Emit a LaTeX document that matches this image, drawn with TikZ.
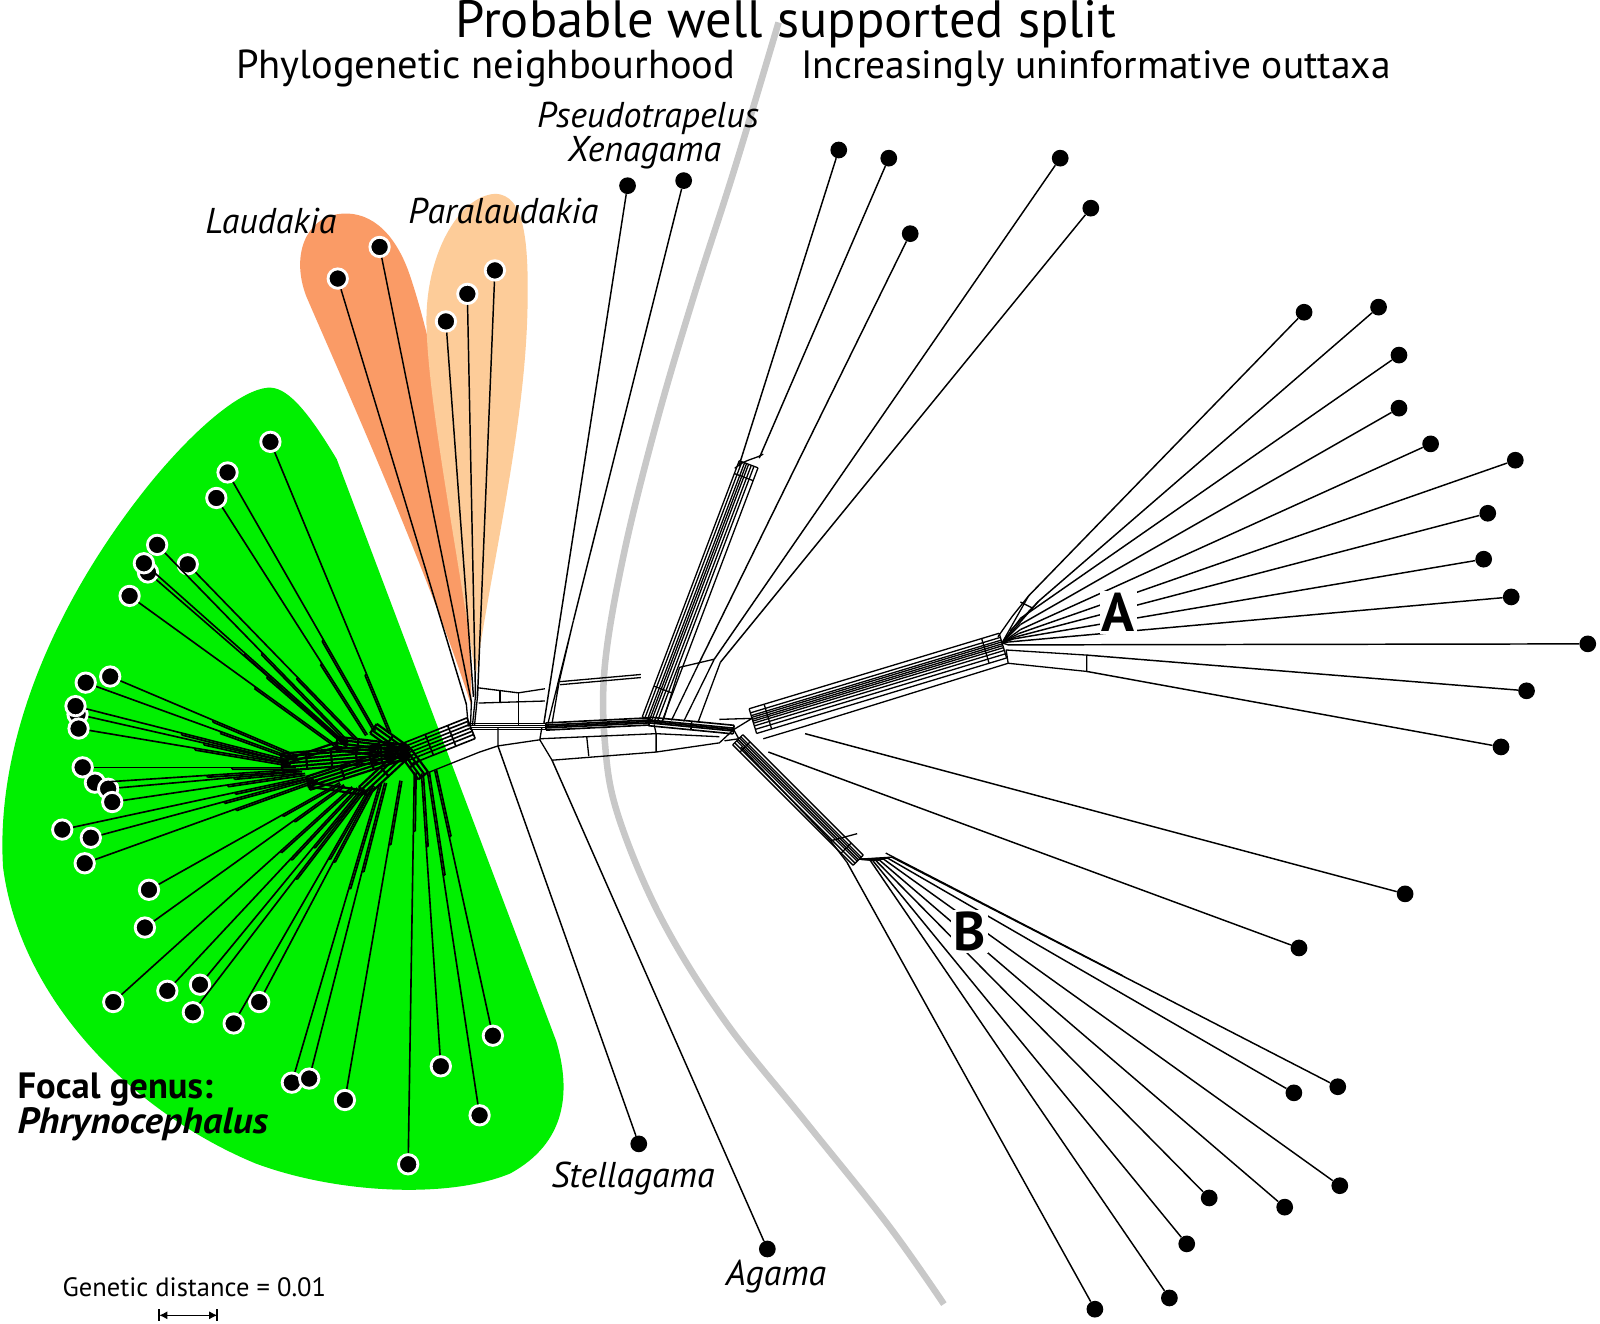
\documentclass[tikz,border=0pt]{standalone}
\usepackage{fontspec}
\setmainfont{PT Sans}
\usetikzlibrary{calc,arrows.meta}
\definecolor{focalgreen}{RGB}{0,240,0}
\definecolor{laudorange}{RGB}{250,155,102}
\definecolor{paraorange}{RGB}{253,204,153}
\definecolor{splitgray}{RGB}{200,200,200}
\newcommand\netband[5]{%
  \foreach \bandoff in {#3}{\draw[netline] ($(#1)!\bandoff!90:(#2)$) -- ($(#2)!\bandoff!-90:(#1)$);}%
  \draw[netline] ($(#1)!#4!90:(#2)$) -- ($(#1)!#5!90:(#2)$);%
  \draw[netline] ($(#2)!#4!-90:(#1)$) -- ($(#2)!#5!-90:(#1)$);%
}
\newcommand\netrung[5]{%
  \coordinate (rungtmp) at ($(#1)!#3!(#2)$);%
  \draw[netline] ($(rungtmp)!#4!90:(#2)$) -- ($(rungtmp)!#5!90:(#2)$);%
}
\newcommand\splitedge[4]{%
  \coordinate (splittmp) at ($(#1)!#3!(#2)$);%
  \draw[netline] ($(#1)!#4!90:(#2)$) -- ($(splittmp)!#4!90:(#2)$);%
  \draw[netline] (splittmp) -- ($(splittmp)!#4!90:(#2)$);%
}
\begin{document}
\begin{tikzpicture}[x=0.25mm,y=-0.25mm,
  netline/.style={line width=0.32mm,black,line join=round},
  leafline/.style={line width=0.36mm,black},
  outdot/.style={circle,fill=black,inner sep=0pt,minimum size=4.1mm},
  ringdot/.style={circle,fill=black,draw=white,line width=0.7mm,inner sep=0pt,minimum size=4.75mm},
  titletext/.style={font=\fontsize{36.6}{40}\selectfont,inner sep=0pt},
  headtext/.style={font=\fontsize{27.5}{32}\selectfont,inner sep=0pt},
  taxontext/.style={font=\fontsize{25}{30}\selectfont\itshape,inner sep=0pt},
  focaltext/.style={font=\fontsize{25.5}{30}\selectfont\bfseries,inner sep=0pt},
  cladetext/.style={font=\fontsize{38}{42}\selectfont\bfseries,fill=white,inner sep=1.5pt},
  scaletext/.style={font=\fontsize{18.5}{22}\selectfont,inner sep=0pt}
]
\useasboundingbox (0,0) rectangle (1568,1297);
\fill[white] (0,0) rectangle (1568,1297);

% ---------- coloured groups ----------
\fill[focalgreen] (262,380) .. controls (280,378) and (300,400) .. (330,450) -- (545,1020)
  .. controls (560,1070) and (555,1120) .. (500,1150)
  .. controls (440,1175) and (330,1170) .. (250,1140)
  .. controls (130,1090) and (20,980) .. (3,850)
  .. controls (-5,720) and (60,580) .. (150,470)
  .. controls (200,410) and (240,382) .. (262,380) -- cycle;
\fill[laudorange] (462,692) .. controls (420,560) and (330,360) .. (300,290)
  .. controls (285,250) and (300,215) .. (330,210)
  .. controls (360,205) and (385,225) .. (400,265)
  .. controls (430,350) and (460,520) .. (462,692) -- cycle;
\fill[paraorange] (466,665) .. controls (452,560) and (420,400) .. (418,320)
  .. controls (416,250) and (450,192) .. (485,190)
  .. controls (515,190) and (518,240) .. (517,300)
  .. controls (515,420) and (480,560) .. (466,665) -- cycle;

% ---------- probable split ----------
\draw[splitgray,line width=1.6mm] plot[smooth,tension=0.6] coordinates
  {(763,22) (720,165) (680,290) (644,412) (612,540) (593,650) (593,730) (606,800)
   (648,900) (710,1000) (790,1100) (870,1200) (925,1278)};

% ---------- network skeleton ----------
\coordinate (kR) at (398,737);
\coordinate (t0) at (461,712);
\coordinate (t1) at (535,712);
\coordinate (t2) at (636,707);
\coordinate (t3) at (719,715);
\coordinate (aTs) at (737,704);
\coordinate (ah) at (982,630);
\coordinate (bTs) at (724,724);
\coordinate (bh) at (842,842);
\coordinate (gT) at (366,714);
\coordinate (gUL) at (330,729);
\coordinate (gL) at (276,747);
\coordinate (gLL) at (302,768);
\coordinate (gB) at (356,776);
\coordinate (gBR) at (415,760);

\begin{scope}[netline/.style={line width=0.4mm,black,line join=round}]
\netband{kR}{t0}{-9pt,-6pt,-3.5pt,-1pt,1.5pt,4pt,6.5pt}{-9pt}{6.5pt}
\netrung{kR}{t0}{0.35}{-9pt}{6.5pt}
\netrung{kR}{t0}{0.7}{-9pt}{6.5pt}
\netband{t0}{t1}{-2pt,-0.7pt,0.7pt,2pt}{-2pt}{2pt}
\netband{t1}{t2}{-2.5pt,-1pt,0pt,1pt,2.5pt}{-2.5pt}{2.5pt}
\netband{t2}{t3}{-3pt,-1pt,0pt,1pt,3pt}{-3pt}{3pt}
\netrung{t2}{t3}{0.5}{-3pt}{3pt}
\end{scope}
\netband{aTs}{ah}{-11pt,-8pt,-5.5pt,-3.5pt,-2pt,-0.7pt,0.7pt,2pt,4pt,7pt}{-11pt}{7pt}
\netrung{aTs}{ah}{0.06}{-11pt}{7pt}
\netrung{aTs}{ah}{0.93}{-11pt}{7pt}
\netband{bTs}{bh}{-6pt,-4pt,-2pt,-0.7pt,0.7pt,2pt,4pt}{-6pt}{4pt}
\netrung{bTs}{bh}{0.06}{-6pt}{4pt}
\netrung{bTs}{bh}{0.9}{-6pt}{4pt}
\draw[netline] (t3) -- (aTs) (t3) -- (bTs) (705,705) -- (aTs) (710,726) -- (bTs);

% green knot
\begin{scope}[netline/.style={line width=0.55mm,black,line join=round}]
\netband{gT}{kR}{-4pt,-1.5pt,1.5pt,4pt}{-4pt}{4pt}
\netrung{gT}{kR}{0.5}{-4pt}{4pt}
\netband{gUL}{kR}{-4.5pt,-2pt,0.5pt,3pt,5pt}{-4.5pt}{5pt}
\netrung{gUL}{kR}{0.3}{-4.5pt}{5pt}
\netrung{gUL}{kR}{0.6}{-4.5pt}{5pt}
\netband{gL}{kR}{-6pt,-3.5pt,-1pt,1.5pt,4pt,6pt}{-6pt}{6pt}
\netrung{gL}{kR}{0.2}{-6pt}{6pt}
\netrung{gL}{kR}{0.4}{-6pt}{6pt}
\netrung{gL}{kR}{0.6}{-6pt}{6pt}
\netrung{gL}{kR}{0.8}{-6pt}{6pt}
\netband{gLL}{kR}{-4.5pt,-2pt,0.5pt,3pt,5pt}{-4.5pt}{5pt}
\netrung{gLL}{kR}{0.35}{-4.5pt}{5pt}
\netrung{gLL}{kR}{0.65}{-4.5pt}{5pt}
\netband{gB}{kR}{-4pt,-1pt,2pt,4.5pt}{-4pt}{4.5pt}
\netrung{gB}{kR}{0.5}{-4pt}{4.5pt}
\netband{gBR}{kR}{-4pt,-1pt,2pt,4.5pt}{-4pt}{4.5pt}
\netrung{gBR}{kR}{0.5}{-4pt}{4.5pt}
\netband{gL}{gUL}{-2pt,1pt}{-2pt}{1pt}
\netband{gLL}{gB}{-2pt,1pt}{-2pt}{1pt}
\end{scope}

% box above trunk (Laudakia / Pseudotrapelus)
\draw[netline] (468,674) -- (508,679) -- (534,675);
\draw[netline] (469,689) -- (534,687);
\draw[netline] (490,676) -- (490,688) (508,679) -- (508,711);
\draw[netline] (549,668) -- (628,661) (549,671) -- (628,664);
% lower path (Stellagama / Agama)
\coordinate (s0) at (488,731);
\coordinate (s1) at (541,745);
\draw[netline] (420,757) -- (470,737) -- (s0) -- (529,725) -- (s1) -- (643,737) -- (705,728) -- (t3);
\draw[netline] (s0) -- (488,713) (529,725) -- (531,713) (529,724) -- (643,719) -- (705,722);
\draw[netline] (575,722) -- (577,741) (643,719) -- (643,737) (643,719) -- (641,710);

% outgroup bundle
\coordinate (ub0) at (636,705);
\coordinate (ub1) at (731,454);
\netband{ub0}{ub1}{-9pt,-6pt,-4pt,-2pt,-0.5pt,1pt,3pt,5pt}{-9pt}{5pt}
\netrung{ub0}{ub1}{0.12}{-9pt}{5pt}
\netrung{ub0}{ub1}{0.95}{-9pt}{5pt}
\draw[netline] (720,459) .. controls (730,450) and (740,450) .. (748,445);
\draw[netline] (666,654) -- (700,646) (684,652) -- (658,706) (700,646) -- (670,707)
  (706,649) -- (684,708) (666,654) -- (650,706);

\coordinate (pa) at (533,709);
\coordinate (xa) at (562,608);
\draw[netline] (xa) -- (537,709) (xa) -- (548,668) -- (541,709);

\draw[netline] (457,690) -- (459,712) (462,688) -- (461,712) (466,682) -- (463,711) (468,682) -- (465,711);

\draw[netline] (986,637) -- (1065,642) -- (1065,658) -- (988,650) -- cycle;
\draw[netline] (748,724) -- (788,712) -- (988,650);
\draw[netline] (726,732) -- (814,824) -- (830,845) (814,824) -- (840,817);
\draw[netline] (868,836) -- (1100,956);

% ---------- leaves ----------
\node[outdot] (o1) at (822,147) {};
\node[outdot] (o2) at (871,155) {};
\node[outdot] (o3) at (892,229) {};
\node[outdot] (o4) at (1039,155) {};
\node[outdot] (o5) at (1069,204) {};
\coordinate (oa1) at (724,457);
\coordinate (oa2) at (744,449);
\coordinate (oa3) at (684,652);
\coordinate (oa4) at (700,646);
\coordinate (oa5) at (706,649);
\foreach \i in {1,...,5}{\draw[leafline] (o\i) -- (oa\i);}

\node[outdot] (ps) at (615,182) {};
\node[outdot] (xe) at (670,177) {};
\draw[leafline] (ps) -- (pa);
\draw[leafline] (xe) -- (xa);

\node[outdot] (st) at (626,1121) {};
\node[outdot] (ag) at (752,1224) {};
\draw[leafline] (st) -- (s0);
\draw[leafline] (ag) -- (s1);

\node[ringdot] (l1) at (331,273) {};
\node[ringdot] (l2) at (372,242) {};
\node[ringdot] (p1) at (437,315) {};
\node[ringdot] (p2) at (458,288) {};
\node[ringdot] (p3) at (485,265) {};
\coordinate (la1) at (457,690);
\coordinate (la2) at (462,688);
\coordinate (pb1) at (464,683);
\coordinate (pb2) at (466,682);
\coordinate (pb3) at (468,682);
\draw[leafline] (l1) -- (la1) (l2) -- (la2) (p1) -- (pb1) (p2) -- (pb2) (p3) -- (pb3);

% focal genus
\begin{scope}[netline/.style={line width=0.42mm,black,line join=round},
              leafline/.style={line width=0.4mm,black}]
\foreach \i/\lx/\ly/\hx/\hy/\fr in {
 1/265/433/383/718/0.2, 2/223/463/368/716/0.35, 3/212/488/360/720/0.3, 4/154/534/342/727/0.45,
 5/145/561/341/731/0.4, 6/141/552/340/729/0.5, 7/184/553/350/724/0.35, 8/127/584/333/733/0.4,
 9/108/663/292/741/0.45, 10/84/669/288/743/0.35, 11/76/700/283/747/0.4, 12/74/692/283/745/0.5,
 13/77/714/285/749/0.45, 14/81/752/290/752/0.3, 15/93/767/293/754/0.45, 16/106/773/296/756/0.35,
 17/110/786/299/758/0.4, 18/61/813/303/761/0.3, 19/89/821/307/762/0.4, 20/83/846/311/764/0.35,
 21/146/872/333/767/0.3, 22/142/909/337/769/0.25, 23/111/982/345/771/0.3, 24/164/971/350/772/0.35,
 25/196/965/355/772/0.3, 26/189/992/357/773/0.4, 27/229/1003/362/772/0.3, 28/254/982/366/770/0.35,
 29/286/1061/372/768/0.35, 30/303/1057/377/767/0.3, 31/338/1078/392/765/0.2, 32/400/1141/406/757/0.15,
 33/432/1045/413/758/0.25, 34/470/1093/419/757/0.3, 35/483/1015/426/755/0.25}{
  \node[ringdot] (g\i) at (\lx,\ly) {};
  \coordinate (gh\i) at (\hx,\hy);
  \splitedge{gh\i}{g\i}{\fr}{1.3pt}
}
\foreach \i in {1,...,35}{\draw[leafline] (g\i) -- (gh\i);}
\end{scope}

% A clade
\foreach \i/\lx/\ly/\hx/\hy in {
 1/1278/306/1008/584, 2/1351/301/1018/589, 3/1371/348/1000/606, 4/1371/400/1000/612,
 5/1402/435/1000/617, 6/1485/451/998/621, 7/1458/503/996/624, 8/1454/548/994/626,
 9/1481/585/990/629, 10/1556/631/988/632, 11/1496/677/1065/642, 12/1471/732/1065/658}{
  \node[outdot] (a\i) at (\lx,\ly) {};
  \coordinate (aa\i) at (\hx,\hy);
}
\foreach \i in {1,...,12}{\draw[leafline] (a\i) -- (aa\i);}
\foreach \i in {1,...,10}{\draw[netline] (aa\i) -- (ah);}
\draw[netline] (aa1) -- (992,604) -- (978,624) (aa2) -- (990,618) (1000,590) -- (1012,596);

% B clade
\foreach \i/\lx/\ly/\hx/\hy in {
 1/1073/1283/830/845, 2/1146/1272/852/842, 3/1163/1219/855/843, 4/1185/1174/858/843,
 5/1259/1183/862/843, 6/1313/1162/866/842, 7/1268/1071/870/841, 8/1311/1065/874/840}{
  \node[outdot] (b\i) at (\lx,\ly) {};
  \coordinate (ba\i) at (\hx,\hy);
}
\foreach \i in {1,...,8}{\draw[leafline] (b\i) -- (ba\i);}
\foreach \i in {2,...,8}{\draw[netline] (ba\i) -- (bh);}

\node[outdot] (d1) at (1377,876) {};
\node[outdot] (d2) at (1273,929) {};
\coordinate (da1) at (789,719);
\coordinate (da2) at (753,737);
\draw[leafline] (d1) -- (da1) (d2) -- (da2);

% ---------- labels ----------
\node[titletext,anchor=base] (title) at (770,37) {Probable well supported split};
\node[headtext,anchor=base west,font=\fontsize{28.2}{32}\selectfont] (neigh) at (231,77) {Phylogenetic neighbourhood};
\node[headtext,anchor=base west] (outtaxa) at (785,77) {Increasingly uninformative outtaxa};
\node[taxontext,anchor=base west] (lps) at (526,125) {Pseudotrapelus};
\node[taxontext,anchor=base west] (lxe) at (556,158) {Xenagama};
\node[taxontext,anchor=base west] (lla) at (201,229) {Laudakia};
\node[taxontext,anchor=base west] (lpa) at (400,219) {Paralaudakia};
\node[taxontext,anchor=base west] (lst) at (540,1164) {Stellagama};
\node[taxontext,anchor=base west] (lag) at (711,1260) {Agama};
\node[focaltext,anchor=base west] (lfo) at (17,1077) {Focal genus:};
\node[focaltext,anchor=base west] (lph) at (17,1111) {\scalebox{1.06}[1]{\itshape Phrynocephalus}};
\node[cladetext] (cladeA) at (1096,600) {A};
\node[cladetext] (cladeB) at (950,913) {B};

\node[scaletext,anchor=base west] (lsc) at (61,1271) {Genetic distance = 0.01};
\coordinate (sbl) at (156,1289);
\coordinate (sbr) at (213,1289);
\draw[line width=0.35mm,{Latex[length=2mm,width=2mm]}-{Latex[length=2mm,width=2mm]}] (sbl) -- (sbr);
\draw[line width=0.5mm] ($(sbl)+(0,-6)$) -- ($(sbl)+(0,6)$) ($(sbr)+(0,-6)$) -- ($(sbr)+(0,6)$);
\end{tikzpicture}
\end{document}
